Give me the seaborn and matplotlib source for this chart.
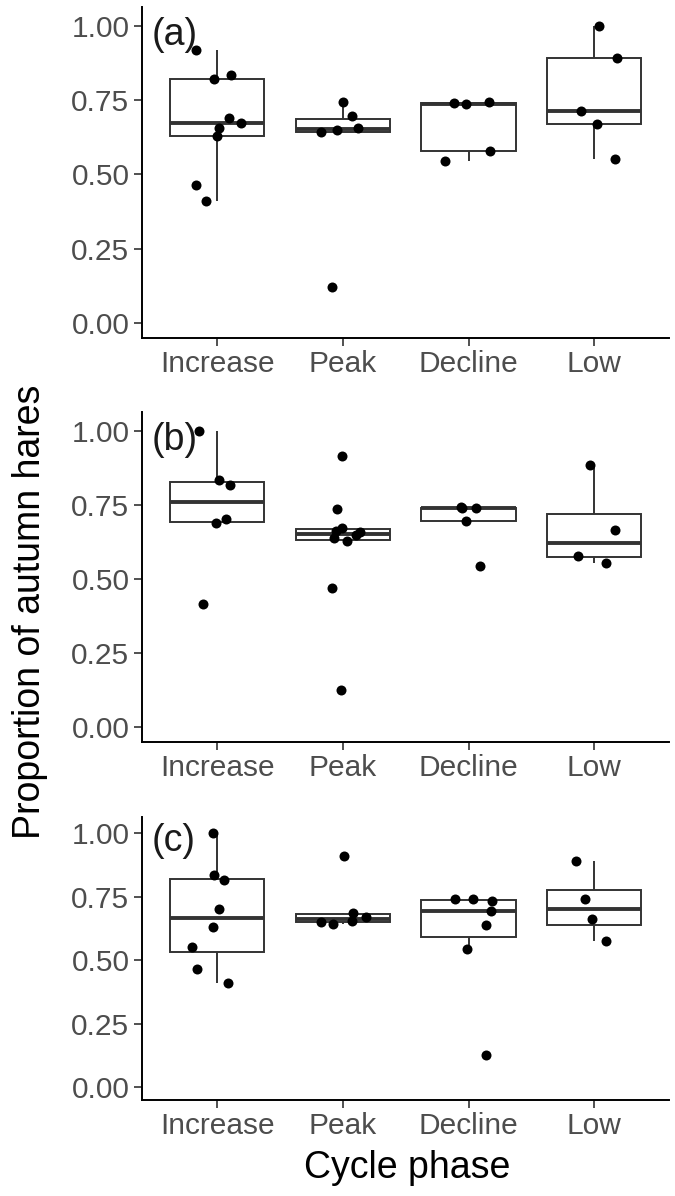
import numpy as np
import pandas as pd
import matplotlib
matplotlib.use("Agg")
import matplotlib.pyplot as plt
import seaborn as sns

phases = ["Increase", "Peak", "Decline", "Low"]
panel_labels = ["(a)", "(b)", "(c)"]
y_ticks = [0.00, 0.25, 0.50, 0.75, 1.00]
y_tick_labels = ["0.00", "0.25", "0.50", "0.75", "1.00"]

# panel (a)
a_increase = [0.918, 0.833, 0.820, 0.690, 0.674, 0.657, 0.628, 0.465, 0.411]
a_peak = [0.743, 0.696, 0.657, 0.648, 0.642, 0.122]
a_decline = [0.743, 0.740, 0.737, 0.580, 0.546]
a_low = [1.000, 0.891, 0.712, 0.668, 0.553]
# panel (b)
b_increase = [1.000, 0.832, 0.817, 0.703, 0.690, 0.414]
b_peak = [0.913, 0.737, 0.672, 0.660, 0.657, 0.647, 0.638, 0.627, 0.468, 0.127]
b_decline = [0.742, 0.740, 0.738, 0.697, 0.543]
b_low = [0.885, 0.664, 0.579, 0.554]
# panel (c)
c_increase = [1.000, 0.833, 0.817, 0.701, 0.631, 0.552, 0.465, 0.411]
c_peak = [0.911, 0.685, 0.670, 0.653, 0.650, 0.644]
c_decline = [0.739, 0.739, 0.731, 0.693, 0.637, 0.543, 0.128]
c_low = [0.889, 0.739, 0.661, 0.574]

panels = [
    [a_increase, a_peak, a_decline, a_low],
    [b_increase, b_peak, b_decline, b_low],
    [c_increase, c_peak, c_decline, c_low],
]


def long_frame(groups):
    rows = []
    for ph, vals in zip(phases, groups):
        for v in vals:
            rows.append({"phase": ph, "prop": v})
    return pd.DataFrame(rows)


sns.set_style("ticks")
plt.rcParams["font.family"] = ["Liberation Sans", "DejaVu Sans"]

W, H = 675, 1196
fig = plt.figure(figsize=(W / 100, H / 100), dpi=100)

boxes_px = [(7, 338), (412, 742), (817, 1100)]
left_px, right_px = 142, 669.5

np.random.seed(7)
for i, (groups, (top, bot)) in enumerate(zip(panels, boxes_px)):
    ax = fig.add_axes([left_px / W, 1 - bot / H, (right_px - left_px) / W, (bot - top) / H])
    df = long_frame(groups)
    sns.boxplot(data=df, x="phase", y="prop", order=phases, ax=ax,
                color="white", linecolor="#333333", linewidth=1.4, width=0.75,
                showfliers=False, whis=1.5, showcaps=False,
                medianprops={"linewidth": 2.8, "color": "#333333"})
    sns.stripplot(data=df, x="phase", y="prop", order=phases, ax=ax,
                  color="black", size=7.2, jitter=0.2, linewidth=0, zorder=5)
    ax.set_xlim(-0.6, 3.6)
    ax.set_ylim(-0.05, 1.063)
    ax.set_yticks(y_ticks)
    ax.set_yticklabels(y_tick_labels)
    ax.set_xlabel("")
    ax.set_ylabel("")
    for s in ["top", "right"]:
        ax.spines[s].set_visible(False)
    for s in ["left", "bottom"]:
        ax.spines[s].set_linewidth(1.4)
        ax.spines[s].set_color("black")
    ax.tick_params(axis="both", labelsize=21.5, labelcolor="#4D4D4D",
                   color="#333333", width=1.2, length=6, pad=3)
    ax.text(-0.52, 0.97, panel_labels[i], ha="left", va="center",
            fontsize=27, color="#1A1A1A")

fig.text(30 / W, 1 - 612 / H, "Proportion of autumn hares", rotation=90,
         ha="center", va="center", fontsize=27, color="black")
fig.text(407 / W, 1 - 1168 / H, "Cycle phase", ha="center", va="center",
         fontsize=27, color="black")

fig.savefig("out.png", dpi=100)
